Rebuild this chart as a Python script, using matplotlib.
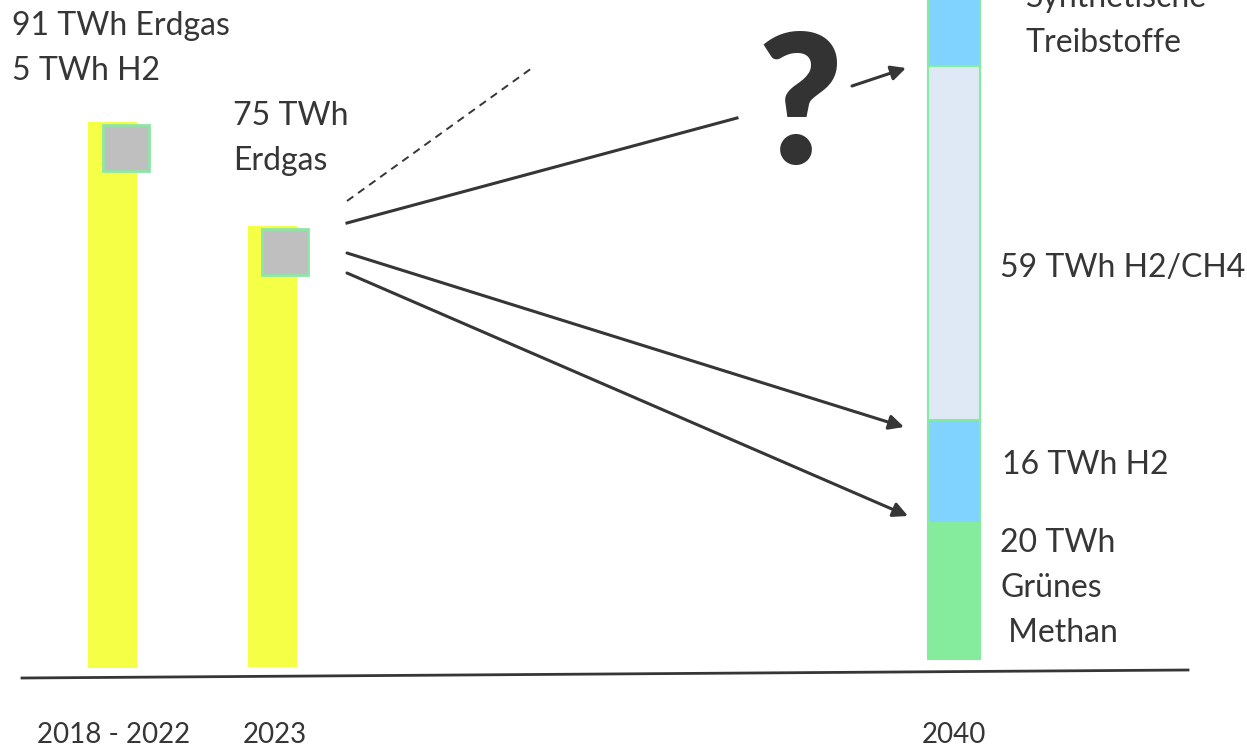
import numpy as np
import matplotlib
matplotlib.use("Agg")
from matplotlib import pyplot as plt
from matplotlib.patches import Rectangle

# bar heights as drawn (schematic, roughly 6 px per TWh)
categories = ["2018 - 2022", "2023", "2040"]
erdgas_heights = [91, 73.5]
seg_2040_names = ["Grünes Methan", "H2", "H2/CH4", "Synthetische Treibstoffe"]
seg_2040_heights = [22.7, 17.2, 59, 14]
seg_2040_colors = ["#85ec9d", "#80d2ff", "#dfe9f5", "#80d2ff"]

labels_left = [["91 TWh Erdgas", "5 TWh H2"], ["75 TWh", "Erdgas"]]
labels_2040 = [["20 TWh", "Grünes", " Methan"], ["16 TWh H2"], ["59 TWh H2/CH4"],
               ["Synthetische", "Treibstoffe"]]

dark = "#363636"
plt.rcParams["font.family"] = ["Lato", "DejaVu Sans"]

fig = plt.figure(figsize=(12.47, 7.48), dpi=100)
ax = fig.add_axes([0, 0, 1, 1])
ax.set_xlim(0, 1247)
ax.set_ylim((668 - 748) / 6, 668 / 6)
ax.axis("off")

def py(v):
    # pixel row -> data y
    return (668 - v) / 6

# yellow Erdgas bars
xs = [112.5, 272.5]
bottoms = [0, 0.17]
ax.bar(xs, erdgas_heights, width=49, bottom=bottoms, color="#f5ff45", zorder=2)

# gray squares on top
sq_off = [15, 14]
for x, b, h, o in zip(xs, bottoms, erdgas_heights, sq_off):
    top = b + h - 0.5
    ax.add_patch(Rectangle((x - 24.5 + o, top - 7.67), 46, 7.67,
                           facecolor="#bfbfbf", edgecolor="#8ee6a6", lw=2, zorder=3))

# 2040 stacked bar
b = 1.5
for h, c in zip(seg_2040_heights, seg_2040_colors):
    ax.bar(954, h, width=52, bottom=b, color=c, edgecolor="#85ec9d", lw=1.5, zorder=2)
    b += h

# baseline
ax.plot([22, 1188], [py(678), py(670)], color=dark, lw=2)

# text labels, one line at a time (x, first baseline in px)
fs = 23
step = 45
def put(lines, x, y0):
    for i, s in enumerate(lines):
        ax.text(x, py(y0 + i * step), s, fontsize=fs, color=dark, va="baseline")

put(labels_left[0], 12, 35)
put(labels_left[1], 233, 125)
put(labels_2040[0], 1000, 552)
put(labels_2040[1], 1002, 474)
put(labels_2040[2], 1000, 277)
put(labels_2040[3], 1026, 7)

# x labels
for x, s in zip([37, 243, 922], categories):
    ax.text(x, py(743), s, fontsize=20, color=dark, va="baseline")

# arrows and lines
ax.plot([347, 532], [py(201), py(68)], color=dark, lw=1.4, ls=(0, (4, 3)))
ax.plot([347, 737], [py(223), py(118)], color=dark, lw=2.2)
arw = dict(arrowstyle="-|>", color=dark, lw=2.2, mutation_scale=22, shrinkA=0, shrinkB=0)
ax.annotate("", xy=(906, py(68)), xytext=(852, py(86)), arrowprops=arw)
ax.annotate("", xy=(904, py(427)), xytext=(347, py(253)), arrowprops=arw)
ax.annotate("", xy=(908, py(516)), xytext=(347, py(273)), arrowprops=arw)

ax.text(800, py(112), "?", fontsize=130, fontweight="heavy", color="#333333",
        ha="center", va="center")

plt.savefig("out.png", dpi=100)
